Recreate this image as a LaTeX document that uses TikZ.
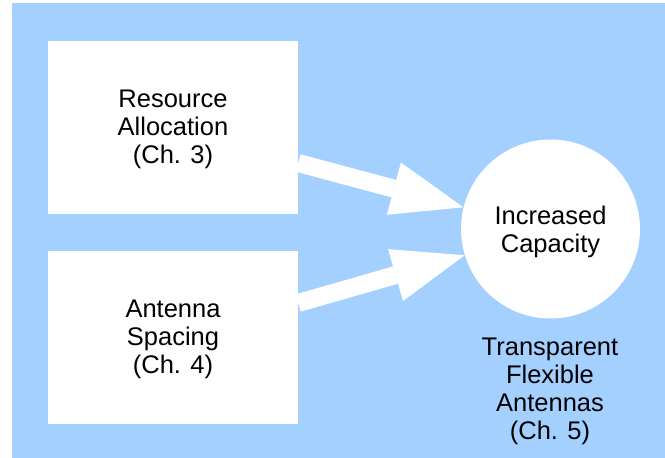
\documentclass[tikz,border=0pt]{standalone}
\usepackage{fontspec}
\setmainfont{Liberation Sans}
\usetikzlibrary{arrows.meta}
\definecolor{bgblue}{RGB}{163,208,255}
\begin{document}
\begin{tikzpicture}[x=1pt,y=-1pt,
  lbl/.style={align=center, font=\fontsize{25.5}{28}\selectfont, inner sep=0pt},
  box/.style={lbl, fill=white, draw=none, minimum width=250pt, minimum height=173pt, text depth=-4pt},
  bubble/.style={lbl, circle, fill=white, draw=none, minimum size=179pt, text depth=-4pt},
  fat/.style={draw=white, line width=18pt, -{Triangle[length=72pt,width=54pt,line width=0pt]}}
]
\useasboundingbox (0,0) rectangle (665,458);
\fill[bgblue] (12,3) rectangle (665,458);
\node[box] (res) at (173,127) {Resource\\Allocation\\(Ch. 3)};
\node[box] (ant) at (173,337) {Antenna\\Spacing\\(Ch. 4)};
\node[bubble] (cap) at (550.5,229) {Increased\\Capacity};
\node[lbl] (tfa) at (550,391) {Transparent\\Flexible\\Antennas\\(Ch. 5)};
\draw[fat] ([yshift=-36pt]res.east) -- (cap.166.4);
\draw[fat] ([yshift=34pt]ant.east) -- (cap.197.2);
\end{tikzpicture}
\end{document}
